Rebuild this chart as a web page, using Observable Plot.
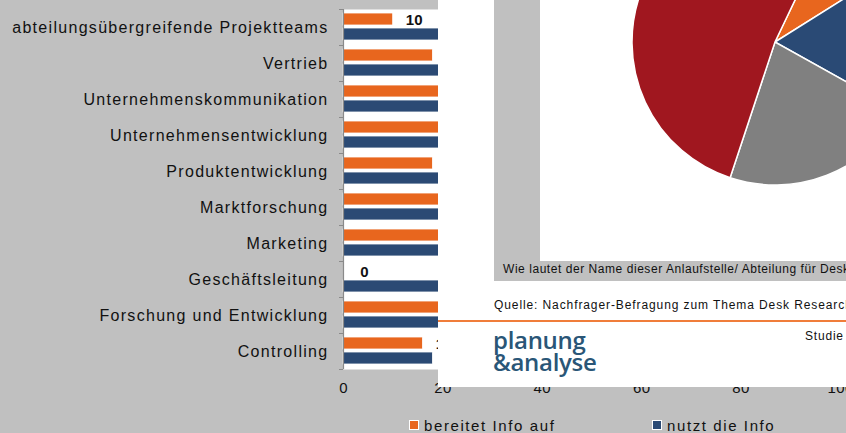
<!DOCTYPE html>
<html><head><meta charset="utf-8">
<script src="https://cdn.jsdelivr.net/npm/d3@7"></script>
<script src="https://cdn.jsdelivr.net/npm/@observablehq/plot@0.6"></script>
<style>
html,body{margin:0;padding:0;background:#c0c0c0;}
#wrap{position:relative;width:846px;height:433px;overflow:hidden;background:#c0c0c0;font-family:"Liberation Sans",Arial,sans-serif;color:#111;}
#chart svg g[aria-label="y-axis tick label"] text{letter-spacing:1.3px;}
#chart svg g[aria-label="x-axis tick label"] text{letter-spacing:0.4px;}
#legend{position:absolute;left:0;top:416px;width:846px;height:18px;font-size:15px;letter-spacing:1.6px;}
.lg{position:absolute;top:0;display:flex;align-items:center;height:18px;white-space:nowrap;}
.sw{width:8px;height:8px;border:1px solid #fff;margin-right:5px;}
#overlay{position:absolute;left:438px;top:0;width:408px;height:387px;background:#fff;overflow:hidden;}
.abs{position:absolute;white-space:nowrap;}
</style></head><body><div id="wrap"><div id="chart"></div><div id="legend"></div><div id="overlay"></div></div>
<script>
// ---- data ----
const categories = [
  "abteilungsübergreifende Projektteams",
  "Vertrieb",
  "Unternehmenskommunikation",
  "Unternehmensentwicklung",
  "Produktentwicklung",
  "Marktforschung",
  "Marketing",
  "Geschäftsleitung",
  "Forschung und Entwicklung",
  "Controlling"
];
const bereitetInfoAuf = [10, 18, 28, 24, 18, 30, 35, 0, 26, 16];
const nutztDieInfo    = [30, 38, 40, 36, 42, 55, 48, 45, 40, 18];
const seriesNames = ["bereitet Info auf", "nutzt die Info"];
const seriesColors = ["#e8661e", "#2b4a74"];
const xTicks = [0, 20, 40, 60, 80, 100];

const pieLabels = ["A", "B", "C", "D"];
const pieValues = [9, 17, 22, 52];
const pieColors = ["#e8661e", "#2a4a75", "#808080", "#a0171f"];

const questionText = "Wie lautet der Name dieser Anlaufstelle/ Abteilung für Desk Research?";
const sourceText = "Quelle: Nachfrager-Befragung zum Thema Desk Research";
const studyText = "Studie";

// ---- bar chart ----
const rows = categories.flatMap((c, i) => [
  {cat: c, series: seriesNames[0], value: bereitetInfoAuf[i]},
  {cat: c, series: seriesNames[1], value: nutztDieInfo[i]}
]);
const s0 = rows.filter(d => d.series === seriesNames[0]);
const s1 = rows.filter(d => d.series === seriesNames[1]);
const H = 400, mT = 9, mB = 31;
const band = (H - mT - mB) / categories.length;

const chart = Plot.plot({
  width: 846, height: H,
  marginLeft: 343, marginRight: 6, marginTop: mT, marginBottom: mB,
  style: {background: "transparent", fontFamily: "Liberation Sans, Arial, sans-serif", fontSize: "15px", color: "#111"},
  x: {domain: [0, 100], axis: null, label: null},
  y: {domain: categories, padding: 0, axis: null, label: null},
  color: {domain: seriesNames, range: seriesColors},
  marks: [
    Plot.frame({fill: "white", stroke: null}),
    Plot.barX(s0, {x: "value", y: "cat", fill: "series", insetTop: 4, insetBottom: band - 16, stroke: "#fff", strokeWidth: 0.8}),
    Plot.barX(s1, {x: "value", y: "cat", fill: "series", insetTop: 19, insetBottom: band - 31, stroke: "#fff", strokeWidth: 0.8}),
    Plot.text(s0, {x: "value", y: "cat", text: d => String(d.value), dx: 21, dy: -7, textAnchor: "middle", fontWeight: "bold", fontSize: 15, fill: "#111"}),
    Plot.text(s1, {x: "value", y: "cat", text: d => String(d.value), dx: 21, dy: 8, textAnchor: "middle", fontWeight: "bold", fontSize: 15, fill: "#111"}),
    Plot.ruleX([0], {stroke: "#8a8a8a", strokeWidth: 1.2}),
    Plot.axisY({tickSize: 0, tickPadding: 15, fontSize: 16, fill: "#111", label: null}),
    Plot.axisY({tickSize: 4, text: null, dy: -band / 2, stroke: "#8a8a8a", label: null}),
    Plot.axisY([categories[categories.length - 1]], {tickSize: 4, text: null, dy: band / 2, stroke: "#8a8a8a", label: null}),
    Plot.axisX({ticks: xTicks, tickSize: 0, tickPadding: 13, fontSize: 15, fill: "#111", label: null})
  ]
});
document.getElementById("chart").append(chart);

// ---- legend ----
const legend = document.getElementById("legend");
const legendX = [409, 652];
seriesNames.forEach((name, i) => {
  const item = document.createElement("div");
  item.className = "lg";
  item.style.left = legendX[i] + "px";
  item.innerHTML = `<div class="sw" style="background:${seriesColors[i]}"></div><span>${name}</span>`;
  legend.append(item);
});

// ---- overlay (second chart excerpt) ----
const ov = document.getElementById("overlay");
ov.innerHTML = `
  <div class="abs" style="left:56px;top:0;width:360px;height:281px;background:#c0c0c0"></div>
  <div class="abs" style="left:102px;top:0;width:320px;height:261px;background:#fff"></div>
  <div class="abs" style="left:65px;top:262px;font-size:12px;letter-spacing:0.55px">${questionText}</div>
  <div class="abs" style="left:56px;top:298px;font-size:12px;letter-spacing:0.9px">${sourceText}</div>
  <div class="abs" style="left:0;top:320px;width:410px;height:2px;background:#f07d3a"></div>
  <div class="abs" style="left:55px;top:329px;font-family:'Open Sans';font-weight:600;font-size:24px;line-height:22px;color:#2a5677;letter-spacing:-0.3px">planung<br>&amp;analyse</div>
  <div class="abs" style="left:367px;top:329px;font-size:12px;letter-spacing:0.8px">${studyText}</div>
`;

const pieMark = () => {
  const g = d3.create("svg:g").attr("transform", "translate(337,42)");
  const arcs = d3.pie().sort(null)
    .startAngle(25.5 * Math.PI / 180)
    .endAngle((25.5 + 360) * Math.PI / 180)(pieValues);
  const arc = d3.arc().innerRadius(0).outerRadius(143);
  g.selectAll("path").data(arcs).join("path")
    .attr("d", arc)
    .attr("fill", (d, i) => pieColors[i])
    .attr("stroke", "#fff")
    .attr("stroke-width", 1.5)
    .append("title").text((d, i) => pieLabels[i]);
  return g.node();
};
const pie = Plot.plot({
  width: 408, height: 387, margin: 0,
  style: {background: "transparent", position: "absolute", left: "0px", top: "0px"},
  marks: [pieMark]
});
ov.append(pie);
</script></body></html>
